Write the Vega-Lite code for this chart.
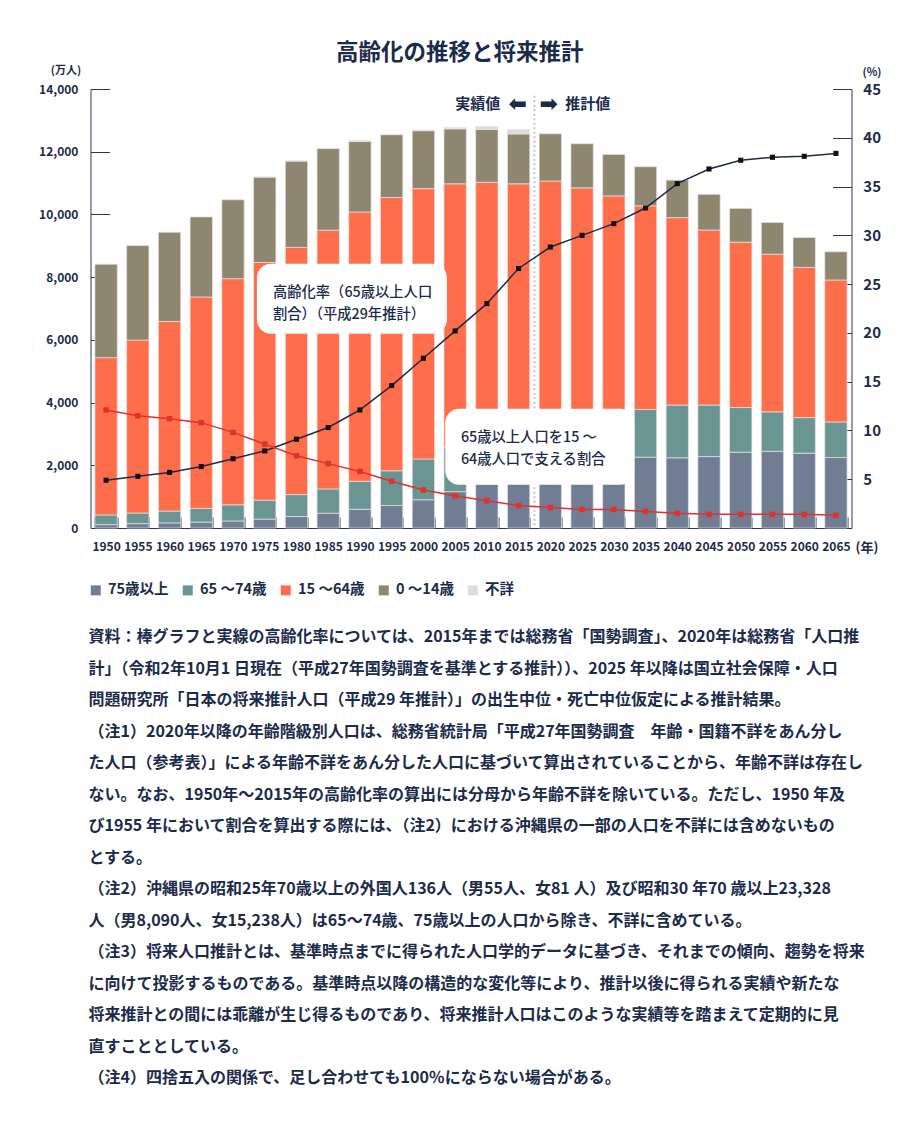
{
  "$schema": "https://vega.github.io/schema/vega-lite/v6.json",
  "padding": {"left": 38.5, "top": 41, "right": 5, "bottom": 5},
  "title": {"text": "高齢化の推移と将来推計", "fontSize": 22.5, "fontWeight": "bold", "color": "#1c2b4a", "anchor": "middle", "offset": 0},
  "datasets": {
    "population": [
      {"year": "1950", "75歳以上": 107, "65 ～74歳": 309, "15 ～64歳": 5017, "0 ～14歳": 2979, "不詳": 0},
      {"year": "1955", "75歳以上": 139, "65 ～74歳": 338, "15 ～64歳": 5517, "0 ～14歳": 3012, "不詳": 0},
      {"year": "1960", "75歳以上": 163, "65 ～74歳": 377, "15 ～64歳": 6047, "0 ～14歳": 2843, "不詳": 0},
      {"year": "1965", "75歳以上": 189, "65 ～74歳": 435, "15 ～64歳": 6744, "0 ～14歳": 2553, "不詳": 0},
      {"year": "1970", "75歳以上": 224, "65 ～74歳": 516, "15 ～64歳": 7212, "0 ～14歳": 2515, "不詳": 0},
      {"year": "1975", "75歳以上": 284, "65 ～74歳": 603, "15 ～64歳": 7581, "0 ～14歳": 2722, "不詳": 4},
      {"year": "1980", "75歳以上": 366, "65 ～74歳": 699, "15 ～64歳": 7884, "0 ～14歳": 2751, "不詳": 7},
      {"year": "1985", "75歳以上": 471, "65 ～74歳": 776, "15 ～64歳": 8251, "0 ～14歳": 2603, "不詳": 4},
      {"year": "1990", "75歳以上": 597, "65 ～74歳": 892, "15 ～64歳": 8590, "0 ～14歳": 2249, "不詳": 33},
      {"year": "1995", "75歳以上": 717, "65 ～74歳": 1109, "15 ～64歳": 8716, "0 ～14歳": 2001, "不詳": 13},
      {"year": "2000", "75歳以上": 900, "65 ～74歳": 1301, "15 ～64歳": 8622, "0 ～14歳": 1847, "不詳": 23},
      {"year": "2005", "75歳以上": 1160, "65 ～74歳": 1407, "15 ～64歳": 8409, "0 ～14歳": 1752, "不詳": 48},
      {"year": "2010", "75歳以上": 1407, "65 ～74歳": 1517, "15 ～64歳": 8103, "0 ～14歳": 1680, "不詳": 98},
      {"year": "2015", "75歳以上": 1613, "65 ～74歳": 1734, "15 ～64歳": 7629, "0 ～14歳": 1589, "不詳": 145},
      {"year": "2020", "75歳以上": 1871, "65 ～74歳": 1747, "15 ～64歳": 7449, "0 ～14歳": 1503, "不詳": 0},
      {"year": "2025", "75歳以上": 2180, "65 ～74歳": 1497, "15 ～64歳": 7170, "0 ～14歳": 1407, "不詳": 0},
      {"year": "2030", "75歳以上": 2288, "65 ～74歳": 1428, "15 ～64歳": 6875, "0 ～14歳": 1321, "不詳": 0},
      {"year": "2035", "75歳以上": 2260, "65 ～74歳": 1522, "15 ～64歳": 6494, "0 ～14歳": 1246, "不詳": 0},
      {"year": "2040", "75歳以上": 2239, "65 ～74歳": 1681, "15 ～64歳": 5978, "0 ～14歳": 1194, "不詳": 0},
      {"year": "2045", "75歳以上": 2277, "65 ～74歳": 1643, "15 ～64歳": 5584, "0 ～14歳": 1138, "不詳": 0},
      {"year": "2050", "75歳以上": 2417, "65 ～74歳": 1424, "15 ～64歳": 5275, "0 ～14歳": 1077, "不詳": 0},
      {"year": "2055", "75歳以上": 2446, "65 ～74歳": 1258, "15 ～64歳": 5028, "0 ～14歳": 1012, "不詳": 0},
      {"year": "2060", "75歳以上": 2387, "65 ～74歳": 1133, "15 ～64歳": 4793, "0 ～14歳": 951, "不詳": 0},
      {"year": "2065", "75歳以上": 2248, "65 ～74歳": 1133, "15 ～64歳": 4529, "0 ～14歳": 898, "不詳": 0}
    ],
    "groups": [
      {"group": "75歳以上", "rank": 1},
      {"group": "65 ～74歳", "rank": 2},
      {"group": "15 ～64歳", "rank": 3},
      {"group": "0 ～14歳", "rank": 4},
      {"group": "不詳", "rank": 5}
    ],
    "ratios": [
      {"year": "1950", "rate": 4.9, "support": 12.1},
      {"year": "1955", "rate": 5.3, "support": 11.5},
      {"year": "1960", "rate": 5.7, "support": 11.2},
      {"year": "1965", "rate": 6.3, "support": 10.8},
      {"year": "1970", "rate": 7.1, "support": 9.8},
      {"year": "1975", "rate": 7.9, "support": 8.6},
      {"year": "1980", "rate": 9.1, "support": 7.4},
      {"year": "1985", "rate": 10.3, "support": 6.6},
      {"year": "1990", "rate": 12.1, "support": 5.8},
      {"year": "1995", "rate": 14.6, "support": 4.8},
      {"year": "2000", "rate": 17.4, "support": 3.9},
      {"year": "2005", "rate": 20.2, "support": 3.3},
      {"year": "2010", "rate": 23.0, "support": 2.8},
      {"year": "2015", "rate": 26.6, "support": 2.3},
      {"year": "2020", "rate": 28.8, "support": 2.1},
      {"year": "2025", "rate": 30.0, "support": 1.9},
      {"year": "2030", "rate": 31.2, "support": 1.9},
      {"year": "2035", "rate": 32.8, "support": 1.7},
      {"year": "2040", "rate": 35.3, "support": 1.5},
      {"year": "2045", "rate": 36.8, "support": 1.4},
      {"year": "2050", "rate": 37.7, "support": 1.4},
      {"year": "2055", "rate": 38.0, "support": 1.4},
      {"year": "2060", "rate": 38.1, "support": 1.4},
      {"year": "2065", "rate": 38.4, "support": 1.3}
    ]
  },
  "vconcat": [
    {
      "width": 761,
      "height": 439,
      "title": {
        "text": [
          "資料：棒グラフと実線の高齢化率については、2015年までは総務省「国勢調査」、2020年は総務省「人口推",
          "計」（令和2年10月1 日現在（平成27年国勢調査を基準とする推計））、2025 年以降は国立社会保障・人口",
          "問題研究所「日本の将来推計人口（平成29 年推計）」の出生中位・死亡中位仮定による推計結果。",
          "（注1）2020年以降の年齢階級別人口は、総務省統計局「平成27年国勢調査　年齢・国籍不詳をあん分し",
          "た人口（参考表）」による年齢不詳をあん分した人口に基づいて算出されていることから、年齢不詳は存在し",
          "ない。なお、1950年～2015年の高齢化率の算出には分母から年齢不詳を除いている。ただし、1950 年及",
          "び1955 年において割合を算出する際には、（注2）における沖縄県の一部の人口を不詳には含めないもの",
          "とする。",
          "（注2）沖縄県の昭和25年70歳以上の外国人136人（男55人、女81 人）及び昭和30 年70 歳以上23,328",
          "人（男8,090人、女15,238人）は65～74歳、75歳以上の人口から除き、不詳に含めている。",
          "（注3）将来人口推計とは、基準時点までに得られた人口学的データに基づき、それまでの傾向、趨勢を将来",
          "に向けて投影するものである。基準時点以降の構造的な変化等により、推計以後に得られる実績や新たな",
          "将来推計との間には乖離が生じ得るものであり、将来推計人口はこのような実績等を踏まえて定期的に見",
          "直すこととしている。",
          "（注4）四捨五入の関係で、足し合わせても100％にならない場合がある。"
        ],
        "orient": "bottom",
        "anchor": "start",
        "frame": "group",
        "align": "left",
        "baseline": "top",
        "fontSize": 16,
        "fontWeight": "bold",
        "color": "#1c2b4a",
        "lineHeight": 31.5,
        "offset": 75,
        "dx": -2
      },
      "layer": [
        {
          "data": {"name": "population"},
          "transform": [
            {"fold": ["75歳以上", "65 ～74歳", "15 ～64歳", "0 ～14歳", "不詳"], "as": ["group", "value"]},
            {"filter": "datum.value > 0"},
            {"lookup": "group", "from": {"data": {"name": "groups"}, "key": "group", "fields": ["rank"]}}
          ],
          "mark": {"type": "bar", "stroke": "#e4e4e4", "strokeWidth": 0.7},
          "encoding": {
            "x": {
              "field": "year", "type": "ordinal",
              "scale": {"paddingInner": 0.297, "paddingOuter": 0.139},
              "axis": {
                "title": "(年)", "titleX": 776, "titleY": 19, "titleAlign": "center", "titleBaseline": "middle",
                "titleFontSize": 13, "titleFontWeight": "bold",
                "labelAngle": 0, "labelFontSize": 12, "labelFontWeight": "bold", "labelPadding": 24,
                "tickBand": "extent", "tickSize": -11, "domainWidth": 1
              }
            },
            "y": {
              "field": "value", "type": "quantitative", "stack": "zero",
              "scale": {"domain": [0, 14000], "nice": false},
              "axis": {
                "orient": "left",
                "title": "(万人)", "titleAngle": 0, "titleX": -25, "titleY": -19, "titleAlign": "center", "titleBaseline": "middle",
                "titleFontSize": 11, "titleFontWeight": "bold",
                "values": [0, 2000, 4000, 6000, 8000, 10000, 12000, 14000], "format": ",d",
                "labelFontSize": 12, "labelFontWeight": "bold", "tickSize": -19, "labelPadding": 31.6
              }
            },
            "color": {
              "field": "group", "type": "nominal",
              "scale": {
                "domain": ["75歳以上", "65 ～74歳", "15 ～64歳", "0 ～14歳", "不詳"],
                "range": ["#717d93", "#6a9592", "#ff6e4b", "#8f8670", "#dcdcdc"]
              },
              "legend": {
                "title": null, "orient": "none", "legendX": -2, "legendY": 494, "direction": "horizontal",
                "symbolType": "square", "symbolSize": 100, "symbolStrokeWidth": 0,
                "labelFontSize": 14.5, "labelFontWeight": "bold", "labelColor": "#1c2b4a",
                "columnPadding": 11, "labelOffset": 5
              }
            },
            "order": {"field": "rank", "type": "quantitative", "sort": "ascending"}
          }
        },
        {
          "data": {"values": [{}]},
          "mark": {"type": "rule", "stroke": "#c4c4c4", "strokeWidth": 2, "strokeDash": [2, 2.5], "xOffset": 15.8},
          "encoding": {
            "x": {"datum": "2015", "type": "ordinal"},
            "y": {"datum": 44.3, "type": "quantitative", "scale": {"domain": [0, 45], "nice": false}, "axis": null},
            "y2": {"datum": 0}
          }
        },
        {
          "data": {"values": [{}]},
          "mark": {"type": "bar", "fill": "#ffffff", "width": 190, "cornerRadius": 14, "xOffset": -8},
          "encoding": {
            "x": {"datum": "1990", "type": "ordinal"},
            "y": {"datum": 27.09, "type": "quantitative", "scale": {"domain": [0, 45], "nice": false}, "axis": null},
            "y2": {"datum": 19.92}
          }
        },
        {
          "data": {"values": [{}]},
          "mark": {"type": "bar", "fill": "#ffffff", "width": 189, "cornerRadius": 14, "xOffset": -10.6},
          "encoding": {
            "x": {"datum": "2020", "type": "ordinal"},
            "y": {"datum": 12.23, "type": "quantitative", "scale": {"domain": [0, 45], "nice": false}, "axis": null},
            "y2": {"datum": 4.44}
          }
        },
        {
          "data": {"name": "ratios"},
          "mark": {"type": "line", "color": "#1c2b4a", "strokeWidth": 1.5, "point": {"shape": "square", "size": 26, "filled": true, "color": "#111111"}},
          "encoding": {
            "x": {"field": "year", "type": "ordinal"},
            "y": {
              "field": "rate", "type": "quantitative",
              "scale": {"domain": [0, 45], "nice": false},
              "axis": {
                "orient": "right", "title": "(%)", "titleAngle": 0, "titleX": 20, "titleY": -17, "titleAlign": "center", "titleBaseline": "middle",
                "titleFontSize": 11, "titleFontWeight": "bold",
                "values": [5, 10, 15, 20, 25, 30, 35, 40, 45], "format": "d",
                "labelFontSize": 15, "labelFontWeight": "bold", "tickSize": -19, "labelPadding": 30.3
              }
            }
          }
        },
        {
          "data": {"name": "ratios"},
          "mark": {"type": "line", "color": "#e0322c", "strokeWidth": 1.5, "point": {"shape": "square", "size": 30, "filled": true, "color": "#e0322c"}},
          "encoding": {
            "x": {"field": "year", "type": "ordinal"},
            "y": {"field": "support", "type": "quantitative", "scale": {"domain": [0, 45], "nice": false}, "axis": null}
          }
        },
        {
          "data": {"values": [{}]},
          "mark": {"type": "text", "text": ["高齢化率（65歳以上人口", "割合）（平成29年推計）"], "align": "left", "baseline": "middle", "lineHeight": 21.5, "fontSize": 14.3, "fontWeight": 500, "color": "#1c2b4a", "xOffset": -87},
          "encoding": {
            "x": {"datum": "1990", "type": "ordinal"},
            "y": {"datum": 24.05, "type": "quantitative", "scale": {"domain": [0, 45], "nice": false}, "axis": null}
          }
        },
        {
          "data": {"values": [{}]},
          "mark": {"type": "text", "text": ["65歳以上人口を15 ～", "64歳人口で支える割合"], "align": "left", "baseline": "middle", "lineHeight": 21.7, "fontSize": 14.3, "fontWeight": 500, "color": "#1c2b4a", "xOffset": -89.4},
          "encoding": {
            "x": {"datum": "2020", "type": "ordinal"},
            "y": {"datum": 9.18, "type": "quantitative", "scale": {"domain": [0, 45], "nice": false}, "axis": null}
          }
        },
        {
          "data": {"values": [{}]},
          "mark": {"type": "text", "text": "実績値", "align": "right", "baseline": "middle", "fontSize": 15, "fontWeight": "bold", "color": "#1c2b4a", "xOffset": -18.4},
          "encoding": {
            "x": {"datum": "2015", "type": "ordinal"},
            "y": {"datum": 43.5, "type": "quantitative", "scale": {"domain": [0, 45], "nice": false}, "axis": null}
          }
        },
        {
          "data": {"values": [{}]},
          "mark": {"type": "text", "text": "推計値", "align": "left", "baseline": "middle", "fontSize": 15, "fontWeight": "bold", "color": "#1c2b4a", "xOffset": 46.6},
          "encoding": {
            "x": {"datum": "2015", "type": "ordinal"},
            "y": {"datum": 43.5, "type": "quantitative", "scale": {"domain": [0, 45], "nice": false}, "axis": null}
          }
        },
        {
          "data": {"values": [{}]},
          "mark": {"type": "text", "text": "⬅", "font": "DejaVu Sans", "fontWeight": "bold", "align": "center", "baseline": "middle", "fontSize": 22, "color": "#1c2b4a", "xOffset": -0.9},
          "encoding": {
            "x": {"datum": "2015", "type": "ordinal"},
            "y": {"datum": 43.5, "type": "quantitative", "scale": {"domain": [0, 45], "nice": false}, "axis": null}
          }
        },
        {
          "data": {"values": [{}]},
          "mark": {"type": "text", "text": "➡", "font": "DejaVu Sans", "fontWeight": "bold", "align": "center", "baseline": "middle", "fontSize": 22, "color": "#1c2b4a", "xOffset": 30.1},
          "encoding": {
            "x": {"datum": "2015", "type": "ordinal"},
            "y": {"datum": 43.5, "type": "quantitative", "scale": {"domain": [0, 45], "nice": false}, "axis": null}
          }
        }
      ],
      "resolve": {"scale": {"y": "independent"}, "axis": {"y": "independent"}}
    }
  ],
  "config": {
    "font": "Noto Sans CJK JP",
    "view": {"stroke": null},
    "axis": {"domainColor": "#2a3857", "tickColor": "#2a3857", "labelColor": "#1c2b4a", "titleColor": "#1c2b4a", "grid": false, "domainWidth": 1, "tickWidth": 1},
    "text": {"font": "Noto Sans CJK JP"}
  }
}
